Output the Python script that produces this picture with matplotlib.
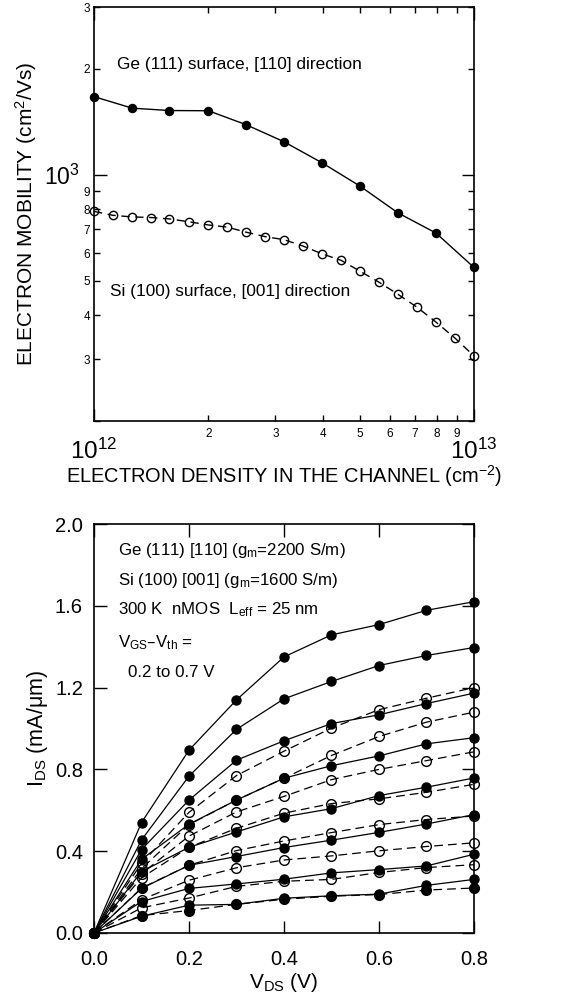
import matplotlib
matplotlib.use("Agg")
import matplotlib.pyplot as plt
from matplotlib.ticker import FixedLocator, FixedFormatter
import numpy as np

plt.rcParams['font.family'] = ['Liberation Sans', 'DejaVu Sans']
plt.rcParams['mathtext.default'] = 'regular'

# ---------------- top panel data ----------------
density_ge = [1.0e12, 1.26e12, 1.58e12, 2.0e12, 2.51e12, 3.16e12, 3.98e12,
              5.01e12, 6.31e12, 7.94e12, 1.0e13]
mobility_ge = [1669, 1548, 1524, 1522, 1390, 1243, 1083, 930, 780, 684, 546]

density_si = [1.0e12, 1.12e12, 1.26e12, 1.41e12, 1.58e12, 1.78e12, 2.0e12,
              2.24e12, 2.51e12, 2.82e12, 3.16e12, 3.55e12, 3.98e12, 4.47e12,
              5.01e12, 5.62e12, 6.31e12, 7.08e12, 7.94e12, 8.91e12, 1.0e13]
mobility_si = [788, 768, 760, 757, 750, 736, 721, 711, 688, 668, 655, 628,
               597, 572, 533, 496, 458, 421, 382, 344, 306]

x_minor_vals = [2e12, 3e12, 4e12, 5e12, 6e12, 7e12, 8e12, 9e12]
x_minor_labels = ['2', '3', '4', '5', '6', '7', '8', '9']
y_minor_vals = [200, 300, 400, 500, 600, 700, 800, 900, 2000, 3000]
y_minor_labels = ['', '3', '4', '5', '6', '7', '8', '9', '2', '3']

# ---------------- bottom panel data ----------------
vds = [0.0, 0.1, 0.2, 0.3, 0.4, 0.5, 0.6, 0.7, 0.8]
ge_ids = [
    [0, 0.540, 0.894, 1.140, 1.350, 1.458, 1.508, 1.578, 1.620],
    [0, 0.455, 0.767, 0.996, 1.145, 1.230, 1.308, 1.357, 1.396],
    [0, 0.408, 0.650, 0.845, 0.940, 1.024, 1.067, 1.122, 1.173],
    [0, 0.360, 0.532, 0.650, 0.757, 0.818, 0.866, 0.925, 0.955],
    [0, 0.300, 0.419, 0.494, 0.568, 0.608, 0.672, 0.713, 0.758],
    [0, 0.218, 0.331, 0.374, 0.418, 0.454, 0.492, 0.533, 0.579],
    [0, 0.154, 0.218, 0.240, 0.263, 0.294, 0.310, 0.328, 0.385],
    [0, 0.082, 0.136, 0.140, 0.170, 0.182, 0.190, 0.233, 0.262],
]
si_ids = [
    [0, 0.340, 0.590, 0.770, 0.889, 1.002, 1.092, 1.148, 1.200],
    [0, 0.315, 0.530, 0.650, 0.757, 0.868, 0.961, 1.031, 1.080],
    [0, 0.290, 0.474, 0.592, 0.668, 0.750, 0.800, 0.843, 0.886],
    [0, 0.270, 0.419, 0.512, 0.586, 0.633, 0.656, 0.688, 0.727],
    [0, 0.220, 0.331, 0.403, 0.450, 0.491, 0.530, 0.555, 0.572],
    [0, 0.163, 0.258, 0.319, 0.357, 0.377, 0.402, 0.423, 0.441],
    [0, 0.123, 0.171, 0.228, 0.253, 0.262, 0.296, 0.320, 0.334],
    [0, 0.085, 0.110, 0.140, 0.165, 0.180, 0.188, 0.210, 0.220],
]
si_filled = [False, False, False, False, False, False, False, True]

W, H = 571, 1008
fig = plt.figure(figsize=(W / 100, H / 100), dpi=100)

def frac_box(l, t, r, b):
    return [l / W, 1 - b / H, (r - l) / W, (b - t) / H]

# ================= top panel =================
ax1 = fig.add_axes(frac_box(94, 7, 474, 421))
ax1.set_xscale('log')
ax1.set_yscale('log')
ax1.plot(density_si, mobility_si, color='black', lw=1.0, dashes=(6, 4),
         marker='o', ms=6, mfc='none', mec='black', mew=1.0, zorder=3,
         clip_on=False)
ax1.plot(density_ge, mobility_ge, '-', color='black', lw=1.0,
         marker='o', ms=5.8, mfc='black', mec='black', zorder=4, clip_on=False)
ax1.set_xlim(1e12, 1e13)
ax1.set_ylim(200, 3000)

ax1.xaxis.set_major_locator(FixedLocator([1e12, 1e13]))
ax1.xaxis.set_major_formatter(FixedFormatter(['$10^{12}$', '$10^{13}$']))
ax1.xaxis.set_minor_locator(FixedLocator(x_minor_vals))
ax1.xaxis.set_minor_formatter(FixedFormatter(x_minor_labels))
ax1.yaxis.set_major_locator(FixedLocator([1000]))
ax1.yaxis.set_major_formatter(FixedFormatter(['$10^{3}$']))
ax1.yaxis.set_minor_locator(FixedLocator(y_minor_vals))
ax1.yaxis.set_minor_formatter(FixedFormatter(y_minor_labels))

ax1.tick_params(which='both', direction='in', top=True, right=True, width=1.0)
ax1.tick_params(which='major', length=9)
ax1.tick_params(which='minor', length=4.5, labelsize=8.5)
ax1.tick_params(axis='x', which='major', pad=13, labelsize=17.5)
ax1.tick_params(axis='x', which='minor', pad=5)
ax1.tick_params(axis='y', which='major', pad=10, labelsize=16.5)
ax1.tick_params(axis='y', which='minor', pad=3)
for s in ax1.spines.values():
    s.set_linewidth(1.2)

ax1.set_xlabel('ELECTRON DENSITY IN THE CHANNEL (cm$^{-2}$)', fontsize=14.4,
               labelpad=-1)
ax1.set_ylabel('ELECTRON MOBILITY (cm$^{2}$/Vs)', fontsize=15)
ax1.yaxis.set_label_coords(-(94 - 39) / 380, 0.5)

ax1.text(0.06, 0.862, 'Ge (111) surface, [110] direction', transform=ax1.transAxes,
         fontsize=12.4, va='center', ha='left')
ax1.text(0.042, 0.314, 'Si (100) surface, [001] direction', transform=ax1.transAxes,
         fontsize=12.4, va='center', ha='left')

# ================= bottom panel =================
ax2 = fig.add_axes(frac_box(94, 524, 474, 933))
for ys, filled in zip(si_ids, si_filled):
    ax2.plot(vds, ys, color='black', lw=0.9, dashes=(7, 4),
             marker='o', ms=7, mfc='black' if filled else 'none', mec='black',
             mew=1.0, zorder=2, clip_on=False)
for ys in ge_ids:
    ax2.plot(vds, ys, '-', color='black', lw=0.9,
             marker='o', ms=6.5, mfc='black', mec='black', zorder=3,
             clip_on=False)
ax2.set_xlim(0, 0.8)
ax2.set_ylim(0, 2.0)
ax2.set_xticks([0.0, 0.2, 0.4, 0.6, 0.8])
ax2.set_xticklabels(['0.0', '0.2', '0.4', '0.6', '0.8'])
ax2.set_yticks([0.0, 0.4, 0.8, 1.2, 1.6, 2.0])
ax2.set_yticklabels(['0.0', '0.4', '0.8', '1.2', '1.6', '2.0'])
ax2.tick_params(direction='in', top=True, right=True, length=9, width=1.0,
                labelsize=14.5)
ax2.tick_params(axis='x', pad=12)
ax2.tick_params(axis='y', pad=8)
for s in ax2.spines.values():
    s.set_linewidth(1.2)
ax2.set_xlabel('V$_{DS}$ (V)', fontsize=15, labelpad=2)
ax2.set_ylabel('I$_{DS}$ (mA/μm)', fontsize=15.5)
ax2.yaxis.set_label_coords(-(94 - 50) / 380, 0.5)

lines = [
    (0.063, 0.936, 'Ge (111) [110] (g$_{m}$=2200 S/m)'),
    (0.063, 0.863, 'Si (100) [001] (g$_{m}$=1600 S/m)'),
    (0.063, 0.790, '300 K  nMOS  L$_{eff}$ = 25 nm'),
    (0.063, 0.711, 'V$_{GS}$–V$_{th}$ ='),
    (0.089, 0.638, '0.2 to 0.7 V'),
]
for x, y, t in lines:
    ax2.text(x, y, t, transform=ax2.transAxes, fontsize=12.2, va='center', ha='left')

fig.savefig('out.png', dpi=100)
